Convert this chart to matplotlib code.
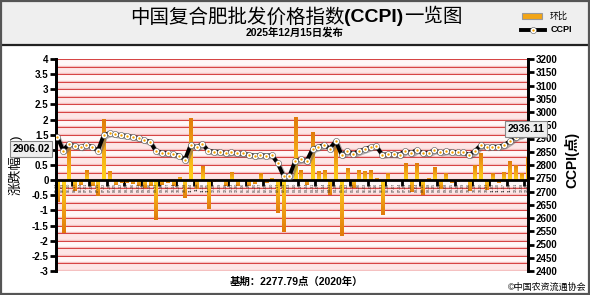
import numpy as np
import matplotlib.pyplot as plt
import matplotlib.patheffects as pe
from matplotlib.patches import Rectangle
from matplotlib.lines import Line2D
from matplotlib.colors import LinearSegmentedColormap

plt.rcParams['font.family'] = ['Liberation Sans', 'Noto Sans CJK SC']

# CCPI index (right axis), weekly
ccpi = [2906.02, 2854.7, 2879.9, 2871.6, 2867.1, 2874.6, 2869.0, 2854.7, 2912.3, 2920.6,
        2915.7, 2913.0, 2910.0, 2906.3, 2900.6, 2893.4, 2888.5, 2852.0, 2847.1, 2844.5,
        2840.3, 2835.8, 2820.0, 2876.5, 2867.1, 2879.9, 2853.5, 2850.9, 2850.1, 2844.5,
        2848.3, 2843.4, 2843.4, 2838.8, 2835.5, 2837.0, 2835.8, 2836.5, 2806.8, 2758.6,
        2757.5, 2815.1, 2820.8, 2815.9, 2860.3, 2868.6, 2875.4, 2862.2, 2890.4, 2838.5,
        2851.6, 2842.2, 2851.6, 2859.6, 2867.8, 2870.5, 2838.8, 2840.7, 2840.3, 2839.6,
        2853.5, 2845.2, 2857.3, 2844.5, 2846.4, 2855.8, 2847.9, 2851.6, 2850.1, 2849.0,
        2847.9, 2837.7, 2852.8, 2875.4, 2867.1, 2869.7, 2868.6, 2875.0, 2889.3, 2906.3,
        2913.0, 2936.11]

# week-on-week change in % (left axis)
huanbi = [-0.72, -1.76, 1.10, -0.35, -0.16, 0.33, -0.18, -0.52, 2.02, 0.30,
          -0.15, -0.10, -0.10, -0.13, -0.20, -0.25, -0.18, -1.30, -0.17, -0.09,
          -0.18, 0.10, -0.60, 2.06, -0.30, 0.48, -0.94, -0.06, -0.03, -0.20,
          0.28, -0.20, 0.00, -0.18, -0.12, 0.22, -0.08, 0.08, -1.08, -1.70,
          -0.04, 2.08, 0.32, -0.17, 1.60, 0.30, 0.35, -0.48, 1.20, -1.84,
          0.40, -0.26, 0.35, 0.30, 0.33, 0.06, -1.14, 0.24, -0.02, -0.02,
          0.56, -0.40, 0.56, -0.48, 0.06, 0.42, -0.28, 0.24, -0.08, -0.05,
          -0.04, -0.36, 0.50, 0.90, -0.32, 0.22, -0.08, 0.28, 0.62, 0.50,
          0.24, 0.76]

date_labels = ("05-27 06-03 06-10 06-17 06-24 07-01 07-08 07-15 07-22 07-29 "
               "08-05 08-12 08-19 08-26 09-02 09-09 09-16 09-23 09-30 10-07 "
               "10-14 10-21 10-28 11-04 11-11 11-18 11-25 12-02 12-09 12-16 "
               "12-23 12-30 01-06 01-13 01-20 01-27 02-03 02-10 02-17 02-24 "
               "03-03 03-10 03-17 03-24 03-31 04-07 04-14 04-21 04-28 05-05 "
               "05-12 05-19 05-26 06-02 06-09 06-16 06-23 06-30 07-07 07-14 "
               "07-21 07-28 08-04 08-11 08-18 08-25 09-01 09-08 09-15 09-22 "
               "09-29 10-06 10-13 10-20 10-27 11-03 11-10 11-17 11-24 12-01 "
               "12-08 12-15").split()

W, H = 590, 295
fig = plt.figure(figsize=(W / 100, H / 100), dpi=100)

# header band + frame
fig.patches.append(Rectangle((0, 1 - 44 / H), 1, 44 / H, transform=fig.transFigure,
                             fc='#efefef', ec='none', zorder=0))
fig.add_artist(Line2D([0, 1], [1 - 44.5 / H] * 2, color='#222222', lw=1.6))
fig.patches.append(Rectangle((0.002, 0.003), 0.996, 0.994, transform=fig.transFigure,
                             fc='none', ec='#555555', lw=1.6, zorder=10))

ax = fig.add_axes([55.5 / W, 1 - 271 / H, (528.3 - 55.5) / W, 212 / H])
ax2 = ax.twinx()
x = np.arange(len(ccpi))

ax.set_xlim(-0.31, 81.2)
ax.set_ylim(-3, 4)
ax2.set_ylim(2400, 3200)

# background stripes / grid
for k in range(28):
    lo = -3 + k * 0.25
    ax.axhspan(lo, lo + 0.25, color='#fde6e6' if k % 2 == 0 else '#fff8f8', lw=0, zorder=0)
for k in range(29):
    v = -3 + k * 0.25
    ax.axhline(v + 0.035, color='#f6c4c4', lw=1.0, zorder=0.5)
    ax.axhline(v, color='#d64545', lw=0.75, zorder=0.6)

# bars with gradient and shadow
cmap = LinearSegmentedColormap.from_list('hb', ['#ffd51a', '#f2a516', '#e07a0a'])
grad = np.linspace(0, 1, 64).reshape(-1, 1)
for i, v in enumerate(huanbi):
    if v == 0:
        continue
    ax.add_patch(Rectangle((i - 0.08, 0), 0.5, v, fc='#666666', alpha=0.5, lw=0, zorder=1.5))
    r = Rectangle((i - 0.27, 0), 0.52, v, fc='none', lw=0, zorder=2)
    ax.add_patch(r)
    im = ax.imshow(grad, aspect='auto', cmap=cmap, origin='lower',
                   extent=(i - 0.27, i + 0.25, 0, v), zorder=2, interpolation='bilinear')
    im.set_clip_path(r)
ax.set_xlim(-0.31, 81.2)
ax.set_ylim(-3, 4)

# zero line and x ticks
ax.spines['bottom'].set_position(('data', 0))
ax.spines['bottom'].set_linewidth(2)
ax.spines['bottom'].set_zorder(4)
ax.spines['top'].set_visible(False)
ax2.spines['top'].set_visible(False)
ax2.spines['bottom'].set_visible(False)
ax.set_xticks(np.arange(2.5, 81, 3))
ax.set_xticklabels([])
ax.tick_params(axis='x', direction='out', length=4.5, width=2, color='black')
for i, lab in enumerate(date_labels):
    ax.text(i, -0.08, lab, rotation=90, fontsize=2.6, ha='center', va='top',
            color='#222222', zorder=3)

# CCPI line
ax2.plot(x, ccpi, color='black', lw=2.8, zorder=3, solid_capstyle='round',
         path_effects=[pe.SimpleLineShadow(offset=(1.5, -1.5), shadow_color='#666666', alpha=0.5),
                       pe.Normal()])
ax2.plot(x, ccpi, 'o', ms=4.4, mfc='white', mec='#555555', mew=0.4, zorder=4)
ax2.plot(x, ccpi, 'o', ms=1.7, mfc='#f5a300', mec='none', zorder=5)

# axes styling
for s in ('left', 'right'):
    ax.spines[s].set_linewidth(2)
    ax2.spines[s].set_linewidth(2)
ax.set_yticks(np.arange(-3, 4.01, 0.5))
ax.set_yticklabels(['{:g}'.format(v) for v in np.arange(-3, 4.01, 0.5)])
ax.tick_params(axis='y', direction='out', length=4, width=2, labelsize=7, pad=1)
for t in ax.get_yticklabels():
    t.set_fontweight('bold')
ax2.set_yticks(np.arange(2400, 3201, 50))
ax2.tick_params(axis='y', direction='out', length=4, width=2, labelsize=7, pad=1)
for t in ax2.get_yticklabels():
    t.set_fontweight('bold')

fig.text(15 / W, 1 - 165 / H, '涨跌幅(%)', rotation=90, ha='center', va='center', fontsize=9.5)
fig.text(572 / W, 1 - 160 / H, 'CCPI(点)', rotation=90, ha='center', va='center',
         fontsize=10, fontweight='bold')

# value boxes
box = dict(boxstyle='square,pad=0.25', fc='#eeeeee', ec='#888888', lw=0.8)
fig.text(31 / W, 1 - 149 / H, '{:.2f}'.format(ccpi[0]), ha='center', va='center',
         fontsize=7.5, fontweight='bold', bbox=box, zorder=6)
fig.text(526 / W, 1 - 129 / H, '{:.2f}'.format(ccpi[-1]), ha='center', va='center',
         fontsize=7.5, fontweight='bold', bbox=box, zorder=6)

# title pieces
fig.canvas.draw()
rend = fig.canvas.get_renderer()
parts = [('中国复合肥批发价格指数', 'normal'), ('(CCPI)', 'bold'), ('一览图', 'normal')]
texts = []
for s, w in parts:
    texts.append(fig.text(0, 1 - 17 / H, s, fontsize=14, fontweight=w, va='center', ha='left'))
widths = [t.get_window_extent(rend).width for t in texts]
xpos = 296 - sum(widths) / 2
for t, wd in zip(texts, widths):
    t.set_x(xpos / W)
    xpos += wd
fig.text(295 / W, 1 - 32.5 / H, '2025年12月15日发布', ha='center', va='center',
         fontsize=7.5, fontweight='bold')

# legend
fig.patches.append(Rectangle((522 / W, 1 - 19 / H), 20 / W, 6 / H, transform=fig.transFigure,
                             fc='#f2a516', ec='#999999', lw=0.8))
fig.text(550 / W, 1 - 16 / H, '环比', fontsize=6.5, va='center', ha='left')
fig.add_artist(Line2D([521 / W, 545 / W], [1 - 30 / H] * 2, color='black', lw=2.8))
fig.add_artist(Line2D([533 / W], [1 - 30 / H], marker='o', ms=4.4, mfc='white', mec='#555555', mew=0.4))
fig.add_artist(Line2D([533 / W], [1 - 30 / H], marker='o', ms=1.7, mfc='#f5a300', mec='none'))
fig.text(551 / W, 1 - 30 / H, 'CCPI', fontsize=6.5, fontweight='bold', va='center', ha='left')

# footer
fig.text(296 / W, 1 - 282 / H, '基期：2277.79点（2020年）', ha='center', va='center',
         fontsize=7.5, fontweight='bold')
fig.text(587 / W, 1 - 287 / H, '©中国农资流通协会', ha='right', va='center', fontsize=6.5)

fig.savefig('out.png', dpi=100)
